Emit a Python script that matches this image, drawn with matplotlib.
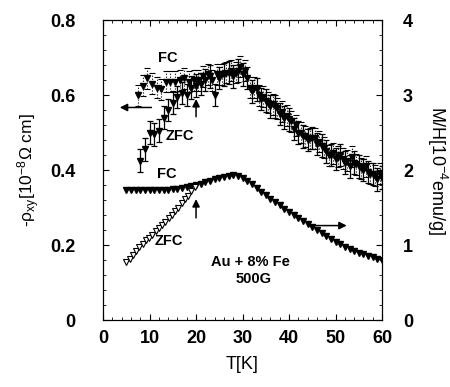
import numpy as np
import matplotlib.pyplot as plt

plt.rcParams['font.family'] = ['Liberation Sans', 'DejaVu Sans']
plt.rcParams['mathtext.default'] = 'regular'

# Hall resistivity -rho_xy [1e-8 Ohm cm], field cooled
T_rho_fc = [7.5, 8.5, 9.5, 10.5, 11.5, 12.5, 13.5, 14.5, 15.5, 16.5, 17.5, 18.5,
            19.5, 20.5, 21.5, 22.5, 23.5, 24.5, 25.5, 26.5, 27.5, 28.5, 29.5, 30.5,
            31.5, 32.5, 33.5, 34.5, 35.5, 36.5, 37.5, 38.5, 39.5, 40.5, 41.5, 42.5,
            43.5, 44.5, 45.5, 46.5, 47.5, 48.5, 49.5, 50.5, 51.5, 52.5, 53.5, 54.5,
            55.5, 56.5, 57.5, 58.5, 59.5]
rho_fc = [0.600, 0.625, 0.645, 0.630, 0.620, 0.615, 0.635, 0.635, 0.635, 0.640, 0.645, 0.635,
          0.640, 0.640, 0.650, 0.655, 0.640, 0.655, 0.655, 0.660, 0.665, 0.660, 0.675, 0.665,
          0.620, 0.620, 0.600, 0.595, 0.580, 0.575, 0.565, 0.555, 0.545, 0.530, 0.520, 0.500,
          0.490, 0.485, 0.485, 0.475, 0.460, 0.440, 0.445, 0.435, 0.430, 0.425, 0.435, 0.415,
          0.405, 0.410, 0.390, 0.385, 0.390]

# zero field cooled
T_rho_zfc = [8, 9, 10, 11, 12, 13, 14, 15, 16, 17, 18, 19, 20, 21, 22, 23, 24, 25, 26,
             27, 28, 29, 30, 31, 32, 33, 34, 35, 36, 37, 38, 39, 40, 41, 42, 43, 44,
             45, 46, 47, 48, 49, 50, 51, 52, 53, 54, 55, 56, 57, 58, 59, 60]
rho_zfc = [0.425, 0.455, 0.500, 0.495, 0.505, 0.540, 0.560, 0.580, 0.595, 0.605, 0.600, 0.620,
           0.625, 0.630, 0.640, 0.650, 0.600, 0.645, 0.655, 0.660, 0.650, 0.665, 0.655, 0.645,
           0.610, 0.615, 0.590, 0.585, 0.570, 0.570, 0.550, 0.540, 0.535, 0.510, 0.500, 0.490,
           0.480, 0.485, 0.470, 0.465, 0.450, 0.440, 0.430, 0.440, 0.420, 0.410, 0.420, 0.410,
           0.400, 0.395, 0.390, 0.375, 0.380]
err_fc = 0.028
err_zfc = 0.03

# magnetisation M/H [1e-4 emu/g]
T_m_fc = [5, 6, 7, 8, 9, 10, 11, 12, 13, 14, 15, 16, 17, 18, 19, 20, 21, 22, 23, 24,
          25, 26, 27, 28, 29, 30, 31, 32, 33, 34, 35, 36, 37, 38, 39, 40, 41, 42, 43,
          44, 45, 46, 47, 48, 49, 50, 51, 52, 53, 54, 55, 56, 57, 58, 59, 60]
m_fc = [1.73, 1.73, 1.73, 1.735, 1.735, 1.735, 1.74, 1.74, 1.74, 1.74, 1.745, 1.75, 1.76,
        1.77, 1.785, 1.80, 1.82, 1.84, 1.86, 1.88, 1.90, 1.91, 1.925, 1.93, 1.925, 1.90,
        1.86, 1.81, 1.76, 1.71, 1.665, 1.62, 1.575, 1.53, 1.485, 1.44, 1.40, 1.355, 1.315,
        1.275, 1.235, 1.195, 1.155, 1.115, 1.08, 1.045, 1.01, 0.98, 0.95, 0.925, 0.90,
        0.875, 0.855, 0.835, 0.815, 0.80]
T_m_zfc = [5.0, 5.7, 6.4, 7.1, 7.8, 8.5, 9.2, 9.9, 10.6, 11.3, 12.0, 12.7, 13.4, 14.1,
           14.8, 15.5, 16.2, 16.9, 17.6, 18.3, 19.0, 19.7]
m_zfc = [0.77, 0.82, 0.87, 0.92, 0.97, 1.02, 1.065, 1.10, 1.14, 1.185, 1.23, 1.27, 1.31,
         1.355, 1.40, 1.45, 1.50, 1.56, 1.61, 1.66, 1.72, 1.77]

fig = plt.figure(figsize=(4.5, 3.87), dpi=100)
ax = fig.add_axes([0.229, 0.173, 0.62, 0.775])
ax2 = ax.twinx()

ax.errorbar(T_rho_fc, rho_fc, yerr=err_fc, fmt='v', color='black', ms=3.8,
            elinewidth=0.8, capsize=2, capthick=0.8, ls='none')
for b in ax.containers[-1].lines[2]:
    b.set_linestyle(':')
ax.errorbar(T_rho_zfc, rho_zfc, yerr=err_zfc, fmt='v', color='black', ms=3.8,
            elinewidth=0.9, capsize=2, capthick=0.9, ls='none')

ax2.plot(T_m_fc, m_fc, 'v', color='black', ms=3.8)
ax2.plot(T_m_zfc, m_zfc, 'v', mfc='white', mec='black', ms=4.2, mew=0.8)

ax.set_xlim(0, 60)
ax.set_ylim(0, 0.8)
ax2.set_ylim(0, 4)
ax.set_xticks([0, 10, 20, 30, 40, 50, 60])
ax.set_xticks(np.arange(0, 61, 2), minor=True)
ax.set_yticks([0, 0.2, 0.4, 0.6, 0.8])
ax.set_yticklabels(['0', '0.2', '0.4', '0.6', '0.8'])
ax.set_yticks(np.arange(0, 0.81, 0.04), minor=True)
ax2.set_yticks([0, 1, 2, 3, 4])
ax2.set_yticks(np.arange(0, 4.01, 0.2), minor=True)

ax.tick_params(which='both', direction='in', top=True, labelsize=13)
ax.tick_params(axis='y', pad=20)
ax.tick_params(axis='x', pad=7)
ax.tick_params(which='major', length=4)
ax.tick_params(which='minor', length=2)
ax2.tick_params(which='both', direction='in', labelsize=13, pad=15)
ax2.tick_params(which='major', length=4)
ax2.tick_params(which='minor', length=2)
for lab in ax.get_xticklabels() + ax.get_yticklabels() + ax2.get_yticklabels():
    lab.set_fontweight('bold')

ax.set_xlabel('T[K]', fontsize=13, labelpad=7)
ax.set_ylabel(r'-$\rho_{xy}$[10$^{-8}$$\Omega$ cm]', fontsize=12.5, labelpad=6)
ax2.set_ylabel(r'M/H[10$^{-4}$emu/g]', fontsize=13, rotation=-90, labelpad=26)

arr = dict(arrowstyle='-|>', color='black', lw=1.1, mutation_scale=11)
ax.annotate('', xy=(3.0, 0.567), xytext=(11.0, 0.567), arrowprops=arr)
ax.annotate('', xy=(20, 0.597), xytext=(20, 0.535), arrowprops=arr)
ax.annotate('', xy=(20, 0.33), xytext=(20, 0.265), arrowprops=arr)
ax.annotate('', xy=(53, 0.252), xytext=(45, 0.252), arrowprops=arr)

kw = dict(fontsize=10.5, fontweight='bold', ha='center', va='center')
ax.text(14, 0.70, 'FC', **kw)
ax.text(16.5, 0.49, 'ZFC', **kw)
ax.text(13.8, 0.39, 'FC', **kw)
ax.text(14.2, 0.21, 'ZFC', **kw)
ax.text(31.6, 0.156, 'Au + 8% Fe', **kw)
ax.text(32.3, 0.11, '500G', **kw)

plt.savefig('out.png', dpi=100)
